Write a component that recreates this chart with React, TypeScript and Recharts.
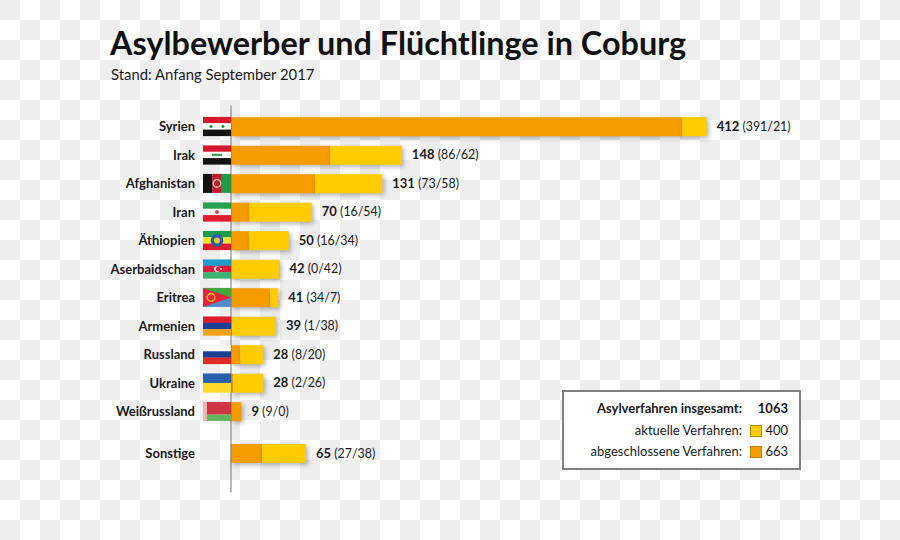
import React from "react";
import { BarChart, Bar, XAxis, YAxis, LabelList } from "recharts";

const countries = ["Syrien","Irak","Afghanistan","Iran","Äthiopien","Aserbaidschan","Eritrea","Armenien","Russland","Ukraine","Weißrussland","Sonstige"];
const closed = [391,86,73,16,16,0,34,1,8,2,9,27];
const current = [21,62,58,54,34,42,7,38,20,26,0,38];
const totals = [412,148,131,70,50,42,41,39,28,28,9,65];
const title = "Asylbewerber und Flüchtlinge in Coburg";
const subtitle = "Stand: Anfang September 2017";
const legendRows = [
  { label: "Asylverfahren insgesamt:", value: 1063, color: "", bold: true },
  { label: "aktuelle Verfahren:", value: 400, color: "#FFCC00", bold: false },
  { label: "abgeschlossene Verfahren:", value: 663, color: "#F59C00", bold: false },
];

const ORANGE = "#F59C00";
const YELLOW = "#FFCC00";
const FONT = "Lato, 'Open Sans', sans-serif";
const table = countries.map((name, i) => ({
  name,
  pos: i === countries.length - 1 ? i + 0.47 : i,
  closed: closed[i],
  current: current[i],
  total: totals[i],
  labelAnchor: 0.001,
}));
const positions = table.map((d) => d.pos);

function Flag({ name, y }: { name: string; y: number }) {
  const x = 203, w = 28, h = 19, t = y - 9.5, s = h / 3;
  const bands = (c: string[]) => c.map((col, i) => (
    <rect key={i} x={x} y={t + (i * h) / c.length} width={w} height={h / c.length + 0.2} fill={col} />
  ));
  const cx = x + w / 2;
  switch (name) {
    case "Syrien":
      return <g>{bands(["#D8172E", "#FFFFFF", "#111111"])}<circle cx={x + 8} cy={y} r={1.6} fill="#1F9A4A" /><circle cx={x + 20} cy={y} r={1.6} fill="#1F9A4A" /></g>;
    case "Irak":
      return <g>{bands(["#D8172E", "#FFFFFF", "#111111"])}<rect x={cx - 5} y={y - 1.2} width={10} height={2.4} fill="#4C9A62" /></g>;
    case "Afghanistan":
      return <g><rect x={x} y={t} width={w / 3 + 0.2} height={h} fill="#111111" /><rect x={x + w / 3} y={t} width={w / 3 + 0.2} height={h} fill="#BE1E2D" /><rect x={x + (2 * w) / 3} y={t} width={w / 3} height={h} fill="#1E9A4B" /><circle cx={cx} cy={y} r={3.8} fill="none" stroke="#F2C6A8" strokeWidth={1.4} /></g>;
    case "Iran":
      return <g>{bands(["#25A24F", "#FFFFFF", "#DE1B2F"])}<circle cx={cx} cy={y} r={2} fill="#D84A55" /></g>;
    case "Äthiopien":
      return <g>{bands(["#1E9A4B", "#F5E12A", "#DE1B2F"])}<circle cx={cx} cy={y} r={6.3} fill="#2A5CAA" /><circle cx={cx} cy={y} r={3} fill="#E3C93A" /></g>;
    case "Aserbaidschan":
      return <g>{bands(["#1E9CCB", "#DE1B3C", "#3CB371"])}<circle cx={cx} cy={y} r={2.8} fill="#FFFFFF" /><circle cx={cx + 1} cy={y} r={2.2} fill="#DE1B3C" /><circle cx={cx + 4} cy={y} r={0.9} fill="#FFFFFF" /></g>;
    case "Eritrea":
      return <g><rect x={x} y={t} width={w} height={h / 2} fill="#3EAA3E" /><rect x={x} y={y} width={w} height={h / 2} fill="#4E8CCB" /><polygon points={`${x},${t} ${x + w},${y} ${x},${t + h}`} fill="#E8213F" /><circle cx={x + 8} cy={y} r={3.8} fill="none" stroke="#F7B500" strokeWidth={1.6} /></g>;
    case "Armenien":
      return <g>{bands(["#DE1B2F", "#1E3F96", "#F5A21B"])}</g>;
    case "Russland":
      return <g>{bands(["#FFFFFF", "#1E3F96", "#DE2B26"])}</g>;
    case "Ukraine":
      return <g>{bands(["#2660AE", "#FFD92B"])}</g>;
    case "Weißrussland":
      return <g><rect x={x} y={t} width={w} height={s * 2} fill="#CE3346" /><rect x={x} y={t + s * 2} width={w} height={s} fill="#63B55D" /><rect x={x} y={t} width={4} height={h} fill="#E7B7B7" /></g>;
    default:
      return null;
  }
}

function CountryTick(props: any) {
  const row = table.find((d) => d.pos === props.payload.value);
  if (!row) return null;
  return (
    <g>
      <text x={195} y={props.y + 4.6} textAnchor="end" fontFamily={FONT} fontSize={13} fontWeight={700} fill="#1a1a1a">{row.name}</text>
      <Flag name={row.name} y={props.y} />
    </g>
  );
}

function ValueLabel(props: any) {
  const row = table[props.index];
  return (
    <text x={props.x + props.width + 10} y={props.y + props.height / 2 + 4.2} fontFamily={FONT} fontSize={12.4} fill="#1a1a1a">
      <tspan fontWeight={700} fontSize={13}>{row.total}</tspan>
      <tspan> ({row.closed}/{row.current})</tspan>
    </text>
  );
}

const barShadow = { filter: "drop-shadow(2px 2px 2.5px rgba(0,0,0,0.3))" };

export default function App() {
  return (
    <div style={{
      position: "absolute", left: 0, top: 0, width: 900, height: 540, overflow: "hidden",
      backgroundColor: "#fff",
      backgroundImage: "conic-gradient(#fff 25%, #eee 25% 50%, #fff 50% 75%, #eee 75%)",
      backgroundSize: "40px 40px",
    }}>
      <div style={{ position: "absolute", left: 110, top: 22, fontFamily: FONT, fontWeight: 700, fontSize: 32.4, color: "#111", whiteSpace: "nowrap", lineHeight: "42px" }}>{title}</div>
      <div style={{ position: "absolute", left: 111, top: 64, fontFamily: FONT, fontSize: 14.85, color: "#1a1a1a", whiteSpace: "nowrap", lineHeight: "20px" }}>{subtitle}</div>
      <BarChart width={900} height={540} data={table} layout="vertical" barSize={19} margin={{ top: 105.4, right: 0, bottom: 47.6, left: 0 }} style={{ position: "absolute", left: 0, top: 0 }}>
        <XAxis type="number" domain={[0, 579.5]} hide />
        <YAxis type="number" dataKey="pos" domain={[-0.737, 12.84]} allowDataOverflow ticks={positions} interval={0} width={231} axisLine={{ stroke: "#777", strokeWidth: 1 }} tickLine={false} tick={CountryTick} />
        <Bar dataKey="closed" stackId="a" fill={ORANGE} isAnimationActive={false} style={barShadow} />
        <Bar dataKey="current" stackId="a" fill={YELLOW} isAnimationActive={false} style={barShadow} />
        <Bar dataKey="labelAnchor" stackId="a" fill="none" isAnimationActive={false}>
          <LabelList dataKey="total" content={ValueLabel} />
        </Bar>
      </BarChart>
      <div style={{ position: "absolute", left: 562, top: 390, width: 235, height: 75.5, border: "2px solid #808080", background: "#fff", fontFamily: FONT, fontSize: 13, color: "#1a1a1a" }}>
        {legendRows.map((r, i) => (
          <div key={r.label} style={{ position: "absolute", left: 0, top: 7 + i * 21.7, width: 235, height: 18, lineHeight: "18px", fontWeight: r.bold ? 700 : 400 }}>
            <span style={{ position: "absolute", right: 57, whiteSpace: "nowrap" }}>{r.label}</span>
            {r.color && <span style={{ position: "absolute", left: 186, top: 4, width: 10, height: 10, background: r.color, border: "0.5px solid #b58a00" }} />}
            <span style={{ position: "absolute", right: 11 }}>{r.value}</span>
          </div>
        ))}
      </div>
    </div>
  );
}
